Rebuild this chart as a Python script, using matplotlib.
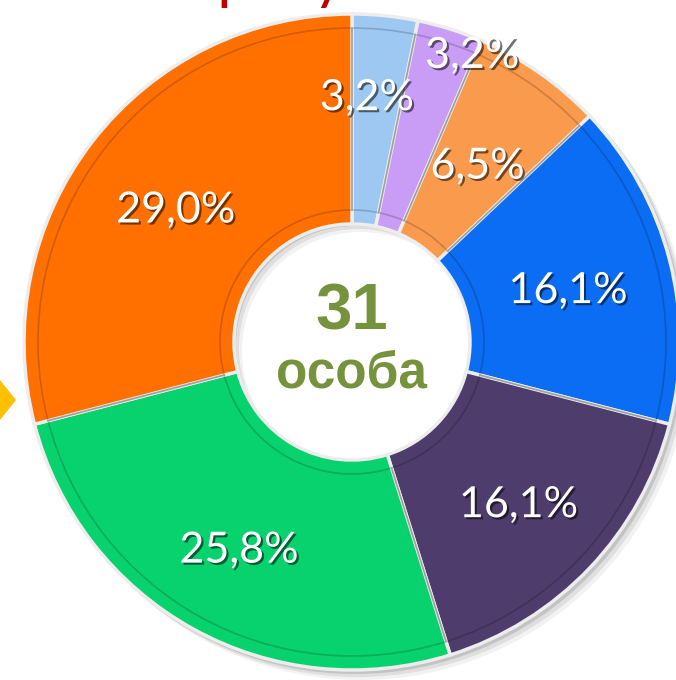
import matplotlib.pyplot as plt
import matplotlib.patheffects as pe
from matplotlib.patches import Polygon
import numpy as np

# data
counts = [1, 1, 2, 5, 5, 8, 9]
labels = ['3,2%', '3,2%', '6,5%', '16,1%', '16,1%', '25,8%', '29,0%']
colors = ['#9DC8F2', '#C99CF6', '#FA9A4C', '#0B6DF3', '#4E3C6C', '#07D26D', '#FF7000']
total_label = '31'
unit_label = 'особа'
title = 'Запослени у школи по спрату'

W, H = 676, 680
cx, cy = 352, H - 342
R, r = 328, 118

fig = plt.figure(figsize=(W / 100, H / 100), dpi=100)
ax = fig.add_axes([0, 0, 1, 1])

# soft drop shadow
for k, a in [(9, 0.05), (6, 0.08), (3, 0.12)]:
    ax.pie([1], radius=R + 1, center=(cx + k, cy - k), colors=['#000000'],
           wedgeprops=dict(width=R - r, alpha=a, linewidth=0))

wedges, _ = ax.pie(counts, radius=R, center=(cx, cy), colors=colors,
                   startangle=90, counterclock=False,
                   wedgeprops=dict(width=R - r, edgecolor='#EDEDED', linewidth=2.5))

# bevel-ish inner frame
for w in wedges:
    w.set_zorder(2)
ax.pie(counts, radius=R - 14, center=(cx, cy), colors=['none'] * len(counts),
       startangle=90, counterclock=False,
       wedgeprops=dict(width=R - r - 28, edgecolor=(0, 0, 0, 0.18), linewidth=1.2, zorder=3))

# percent labels
dist = [0.76, 0.96, 0.67, 0.68, 0.70, 0.71, 0.68]
shift = [2.4, -5, 0, 0, 0, 0, 0]
cum = np.cumsum([0] + counts)
tot = sum(counts)
shadow = [pe.SimplePatchShadow(offset=(1.5, -1.5), shadow_rgbFace='black', alpha=0.55), pe.Normal()]
for i, lab in enumerate(labels):
    mid = 90 - 360 * (cum[i] + cum[i + 1]) / 2 / tot + shift[i]
    t = np.deg2rad(mid)
    ax.text(cx + dist[i] * R * np.cos(t), cy + dist[i] * R * np.sin(t) - 5, lab,
            ha='center', va='center', color='white', fontsize=31,
            family='Lato', zorder=5, path_effects=shadow)

ax.text(cx, H - 312, total_label, ha='center', va='center', fontsize=47,
        fontweight='bold', color='#76923C', family='Liberation Sans', zorder=5)
ax.text(cx, H - 374, unit_label, ha='center', va='center', fontsize=37,
        fontweight='bold', color='#76923C', family='Liberation Sans', zorder=5)

# title, mostly above the top edge (only descenders show)
ax.text(345, H + 3, title, ha='right', va='baseline', fontsize=44,
        color='#C00000', family='Lato', clip_on=True)

# yellow arrow at left edge
ax.add_patch(Polygon([(0, H - 380), (16, H - 400), (0, H - 420)], closed=True,
                     facecolor='#FFC000', edgecolor='none'))

ax.set_xlim(0, W)
ax.set_ylim(0, H)
ax.set_aspect('equal')
ax.axis('off')

fig.savefig('out.png', dpi=100)
